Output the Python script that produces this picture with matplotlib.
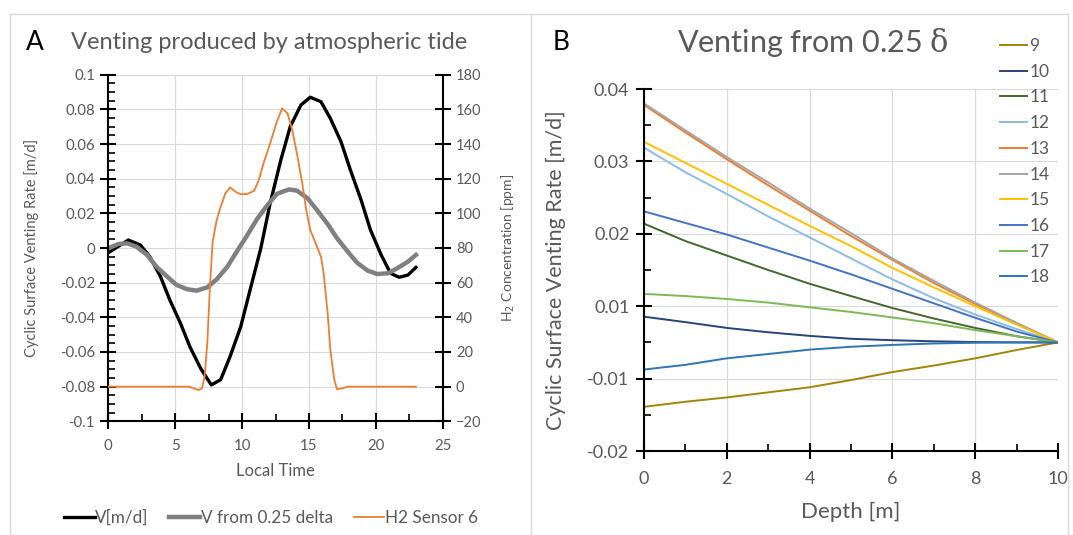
import numpy as np
import matplotlib
matplotlib.use("Agg")
import matplotlib.pyplot as plt
from matplotlib.lines import Line2D
from matplotlib.ticker import FixedLocator, FormatStrFormatter

plt.rcParams['font.family'] = ['Lato', 'DejaVu Sans']

# ============================================================
# PANEL A DATA
# ============================================================

v_time = [0, 1.5, 2.4, 3.1, 3.9, 4.6, 5.4, 6.1, 6.9, 7.7, 8.4, 9.1, 9.9, 10.6,
          11.4, 12.1, 12.9, 13.6, 14.4, 15.1, 15.9, 16.6, 17.4, 18.1, 18.9,
          19.6, 20.4, 21.1, 21.75, 22.4, 23]
v_rate = [-0.0027, 0.0046, 0.0017, -0.005, -0.0165, -0.030, -0.0435, -0.057,
          -0.0694, -0.079, -0.076, -0.0627, -0.0454, -0.0242, -0.0002, 0.0258,
          0.0508, 0.070, 0.0825, 0.087, 0.0844, 0.0748, 0.0613, 0.045, 0.0277,
          0.0104, -0.004, -0.0146, -0.0169, -0.0156, -0.0112]

delta_time = [0, 0.75, 1.4, 2.1, 2.9, 3.6, 4.4, 5.1, 5.9, 6.6, 7.4, 8.1, 8.9,
              9.6, 10.4, 11.1, 11.9, 12.6, 13.5, 14.1, 14.9, 15.6, 16.4, 17.1,
              17.9, 18.6, 19.4, 20.1, 20.9, 21.6, 22.4, 23]
delta_rate = [-0.0002, 0.0023, 0.0027, 0.0008, -0.004, -0.0108, -0.0165,
              -0.0213, -0.0238, -0.0246, -0.0227, -0.0181, -0.0108, -0.0021,
              0.0075, 0.0165, 0.0248, 0.0312, 0.0338, 0.0331, 0.0287, 0.0219,
              0.0138, 0.0056, -0.0021, -0.0085, -0.0131, -0.015, -0.0146,
              -0.0117, -0.0079, -0.004]

h2_time = [0, 6, 6.4, 6.75, 7.0, 7.2, 7.4, 7.6, 7.8, 8.1, 8.4, 8.75, 9.1, 9.5,
           9.9, 10.4, 10.9, 11.25, 11.6, 12.1, 12.6, 13.0, 13.4, 13.75, 14.1,
           14.5, 14.8, 15.1, 15.5, 15.9, 16.1, 16.4, 16.6, 16.9, 17.1, 17.5,
           17.9, 23]
h2_ppm = [0, 0, -1, -2, -1, 5.8, 25, 57.7, 83.7, 96, 103.8, 111.5, 115, 112.5,
          111, 111.2, 113, 119.2, 128.8, 140.4, 152.9, 160.6, 157.7, 148, 134.6,
          117.3, 101.9, 90.4, 82.7, 75, 65.4, 42.3, 21.2, 3.8, -1.5, -1, 0, 0]

# ============================================================
# PANEL B DATA
# ============================================================

depth = [0, 1, 2, 3, 4, 5, 6, 7, 8, 9, 10]
hour_labels = ['9', '10', '11', '12', '13', '14', '15', '16', '17', '18']

vent_h9 = [-0.0139, -0.0132, -0.0126, -0.0119, -0.0112, -0.0102, -0.0082,
           -0.0064, -0.0044, -0.0021, 0.0]
vent_h10 = [0.0071, 0.0056, 0.0040, 0.0028, 0.0018, 0.0010, 0.0006, 0.0003,
            0.0001, 0.0, 0.0]
vent_h11 = [0.0214, 0.0190, 0.0170, 0.0150, 0.0131, 0.0114, 0.0095, 0.0066,
            0.0040, 0.0017, 0.0]
vent_h12 = [0.0319, 0.0285, 0.0255, 0.0224, 0.0195, 0.0166, 0.0137, 0.0111,
            0.0077, 0.0037, 0.0]
vent_h13 = [0.0378, 0.0340, 0.0303, 0.0267, 0.0232, 0.0197, 0.0164, 0.0132,
            0.0103, 0.0053, 0.0]
vent_h14 = [0.0380, 0.0343, 0.0306, 0.0271, 0.0235, 0.0201, 0.0166, 0.0135,
            0.0105, 0.0054, 0.0]
vent_h15 = [0.0327, 0.0298, 0.0269, 0.0240, 0.0211, 0.0183, 0.0153, 0.0126,
            0.0100, 0.0049, 0.0]
vent_h16 = [0.0231, 0.0215, 0.0199, 0.0181, 0.0163, 0.0144, 0.0124, 0.0104,
            0.0068, 0.0030, 0.0]
vent_h17 = [0.0117, 0.0114, 0.0110, 0.0105, 0.0097, 0.0084, 0.0069, 0.0053,
            0.0034, 0.0017, 0.0]
vent_h18 = [-0.0075, -0.0062, -0.0044, -0.0032, -0.0020, -0.0012, -0.0007,
            -0.0003, -0.0001, 0.0, 0.0]

profiles = [vent_h9, vent_h10, vent_h11, vent_h12, vent_h13,
            vent_h14, vent_h15, vent_h16, vent_h17, vent_h18]

colors_b = ['#a48407', '#264478', '#43682b', '#8bbbe6', '#ed7d31',
            '#a5a5a5', '#ffc000', '#4472c4', '#7cb957', '#2e75b6']

# ============================================================
# STYLE
# ============================================================

W, H = 1073, 535
GREY_TXT = '#595959'
GRID = '#d9d9d9'

def fx(px):
    return px / W

def fy(py):
    return 1 - py / H

def style_axis(ax):
    ax.grid(True, which='major', color=GRID, lw=0.8)
    ax.set_axisbelow(True)
    for side in ['top', 'right']:
        ax.spines[side].set_visible(False)
    for side in ['left', 'bottom']:
        ax.spines[side].set_linewidth(1.5)
        ax.spines[side].set_color('black')
    ax.tick_params(which='major', direction='inout', length=11, width=1.5,
                   color='black', labelcolor=GREY_TXT)
    ax.tick_params(which='minor', direction='in', length=5, width=1.2,
                   color='black')

fig = plt.figure(figsize=(W / 100, H / 100), dpi=100)

# ============================================================
# PANEL A
# ============================================================

axA = fig.add_axes([fx(108.3), fy(421.3), fx(442.7 - 108.3), (421.3 - 74.7) / H])
style_axis(axA)

axA.plot(v_time, v_rate, color='black', lw=2.4, label='V[m/d]')
axA.plot(delta_time, delta_rate, color='#808080', lw=3.2,
         label='V from 0.25 delta')

axA.set_xlim(0, 25)
axA.set_ylim(-0.1, 0.1)
axA.xaxis.set_major_locator(FixedLocator([0, 5, 10, 15, 20, 25]))
axA.xaxis.set_minor_locator(FixedLocator([2.5, 7.5, 12.5, 17.5, 22.5]))
axA.yaxis.set_major_locator(FixedLocator(np.round(np.arange(-0.1, 0.101, 0.02), 2)))
axA.yaxis.set_minor_locator(FixedLocator(np.round(np.arange(-0.1, 0.101, 0.005), 3)))
axA.yaxis.set_major_formatter(FormatStrFormatter('%g'))
axA.tick_params(axis='y', which='major', labelsize=10.8, pad=4)
axA.tick_params(axis='x', which='major', labelsize=10.8, pad=7)

axA.set_xlabel('Local Time', fontsize=12, color=GREY_TXT)
axA.xaxis.set_label_coords(0.5, -0.12)
axA.set_ylabel('Cyclic Surface Venting Rate [m/d]', fontsize=10.5, color=GREY_TXT)
axA.yaxis.set_label_coords(-0.207, 0.5)

axA2 = axA.twinx()
axA2.plot(h2_time, h2_ppm, color='#ed7d31', lw=1.3, label='H2 Sensor 6')
axA2.set_ylim(-20, 180)
axA2.yaxis.set_major_locator(FixedLocator(np.arange(-20, 181, 20)))
for side in ['top', 'left', 'bottom']:
    axA2.spines[side].set_visible(False)
axA2.spines['right'].set_linewidth(1.5)
axA2.tick_params(axis='y', which='major', direction='inout', length=11,
                 width=1.5, color='black', labelcolor=GREY_TXT,
                 labelsize=10.5, pad=4)
axA2.set_ylabel(r'H$_2$ Concentration [ppm]', fontsize=10, color=GREY_TXT)
axA2.yaxis.set_label_coords(1.17, 0.5)

handles = [Line2D([], [], color='black', lw=2.4),
           Line2D([], [], color='#808080', lw=3.2),
           Line2D([], [], color='#ed7d31', lw=1.3)]
fig.legend(handles, ['V[m/d]', 'V from 0.25 delta', 'H2 Sensor 6'],
           loc='center', bbox_to_anchor=(fx(271), fy(518)), ncol=3,
           frameon=False, fontsize=12.3, handlelength=1.8, handletextpad=0.05,
           columnspacing=1.2, borderpad=0, borderaxespad=0,
           labelcolor=GREY_TXT)

fig.text(fx(34.4), fy(42.4), 'A', fontsize=19, color='black',
         ha='center', va='center')
fig.text(fx(269.5), fy(42.4), 'Venting produced by atmospheric tide',
         fontsize=17, color=GREY_TXT, ha='center', va='center')

# ============================================================
# PANEL B
# ============================================================

def fwd(y):
    y = np.asarray(y, dtype=float)
    return np.where(y >= 0.01, y - 0.005, np.where(y <= -0.01, y + 0.005, y / 2))

def inv(v):
    v = np.asarray(v, dtype=float)
    return np.where(v >= 0.005, v + 0.005, np.where(v <= -0.005, v - 0.005, v * 2))

axB = fig.add_axes([fx(644), fy(451), fx(1058 - 644), (451 - 89) / H])
axB.set_yscale('function', functions=(fwd, inv))
style_axis(axB)

for vals, lab, col in zip(profiles, hour_labels, colors_b):
    axB.plot(depth, vals, color=col, lw=1.4, label=lab)

axB.set_xlim(0, 10)
axB.set_ylim(-0.02, 0.04)
axB.xaxis.set_major_locator(FixedLocator([0, 2, 4, 6, 8, 10]))
axB.xaxis.set_minor_locator(FixedLocator([1, 3, 5, 7, 9]))
axB.yaxis.set_major_locator(FixedLocator([-0.02, -0.01, 0.01, 0.02, 0.03, 0.04]))
axB.yaxis.set_minor_locator(FixedLocator([-0.015, 0.0, 0.015, 0.025, 0.035]))
axB.yaxis.set_major_formatter(FormatStrFormatter('%g'))
axB.tick_params(axis='y', which='major', labelsize=13, pad=5)
axB.tick_params(axis='x', which='major', labelsize=13, pad=9)

axB.set_xlabel('Depth [m]', fontsize=16, color=GREY_TXT)
axB.xaxis.set_label_coords(0.5, -0.141)
axB.set_ylabel('Cyclic Surface Venting Rate [m/d]', fontsize=15.5, color=GREY_TXT)
axB.yaxis.set_label_coords(-0.188, 0.5)

fig.legend(*axB.get_legend_handles_labels(), loc='upper left',
           bbox_to_anchor=(fx(1000), fy(38)), frameon=False, fontsize=12.5,
           handlelength=1.55, handletextpad=0.15, labelspacing=0.56,
           borderpad=0, borderaxespad=0, labelcolor=GREY_TXT)

fig.text(fx(560.7), fy(42.4), 'B', fontsize=19, color='black',
         ha='center', va='center')
fig.text(fx(813), fy(42.4), r'Venting from 0.25 $\mathrm{\delta}$', fontsize=22,
         color=GREY_TXT, ha='center', va='center', math_fontfamily='dejavuserif')

# ============================================================
# PANEL FRAMES
# ============================================================

for x0, x1 in [(10, 530.5), (530.5, 1068)]:
    fig.add_artist(Line2D([fx(x0), fx(x1)], [fy(13.6), fy(13.6)], color=GRID, lw=1))
    fig.add_artist(Line2D([fx(x0), fx(x0)], [fy(13.6), 0], color=GRID, lw=1))
fig.add_artist(Line2D([fx(1068), fx(1068)], [fy(13.6), 0], color=GRID, lw=1))

fig.savefig('out.png', dpi=100)
